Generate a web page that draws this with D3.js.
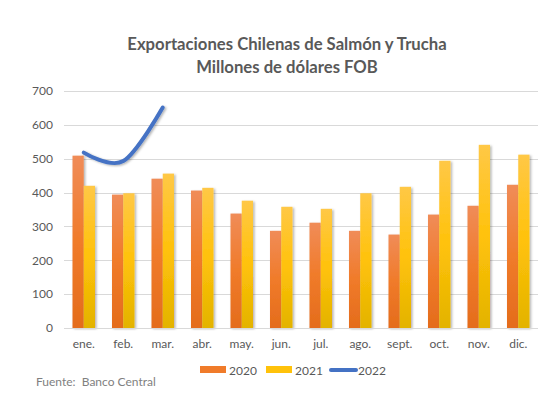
<!DOCTYPE html>
<html>
<head>
<meta charset="utf-8">
<script src="https://cdn.jsdelivr.net/npm/d3@7"></script>
<style>
  body { margin: 0; background: #fff; }
  text { font-family: "Lato", "Open Sans", sans-serif; }
</style>
</head>
<body>
<svg id="chart"></svg>
<script>
const width = 552, height = 397;
const margin = { top: 91, right: 14, bottom: 69, left: 64 };

// Data
const months = ["ene.", "feb.", "mar.", "abr.", "may.", "jun.", "jul.", "ago.", "sept.", "oct.", "nov.", "dic."];
const values2020 = [509, 394, 441, 406, 338, 287, 311, 287, 276, 335, 361, 423];
const values2021 = [420, 398, 456, 414, 376, 358, 352, 398, 417, 494, 541, 512];
const values2022 = [518, 493, 651];
const yTicks = [0, 100, 200, 300, 400, 500, 600, 700];
const titleLines = ["Exportaciones Chilenas de Salmón y Trucha", "Millones de dólares FOB"];

const plotWidth = width - margin.left - margin.right;
const plotHeight = height - margin.top - margin.bottom;

const svg = d3.select("#chart")
    .attr("width", width)
    .attr("height", height);

const defs = svg.append("defs");

// Gradients for bars
function addGradient(id, top, mid, bottom) {
    const gr = defs.append("linearGradient")
        .attr("id", id)
        .attr("x1", 0).attr("y1", 0).attr("x2", 0).attr("y2", 1);
    gr.append("stop").attr("offset", "0%").attr("stop-color", top);
    gr.append("stop").attr("offset", "50%").attr("stop-color", mid);
    gr.append("stop").attr("offset", "100%").attr("stop-color", bottom);
}
addGradient("grad2020", "#f08c58", "#f07b2a", "#e46c1c");
addGradient("grad2021", "#ffc846", "#ffc20a", "#e3b300");

const shadow = defs.append("filter").attr("id", "shadow")
    .attr("x", "-20%").attr("y", "-10%").attr("width", "160%").attr("height", "130%");
shadow.append("feDropShadow")
    .attr("dx", 1.5).attr("dy", 1).attr("stdDeviation", 1)
    .attr("flood-color", "#000").attr("flood-opacity", 0.3);

const g = svg.append("g")
    .attr("transform", `translate(${margin.left},${margin.top})`);

// Scales
const xScale = d3.scaleBand().domain(months).range([0, plotWidth]).paddingInner(0.43).paddingOuter(0.215);
const xSub = d3.scaleBand().domain(["2020", "2021"]).range([0, xScale.bandwidth()]);
const yScale = d3.scaleLinear().domain([0, 700]).range([plotHeight, 0]);
const xCenter = d => xScale(d) + xScale.bandwidth() / 2;

// Gridlines
g.append("g")
    .selectAll("line")
    .data(yTicks)
    .enter()
    .append("line")
    .attr("x1", 0)
    .attr("x2", plotWidth)
    .attr("y1", d => Math.round(yScale(d)) + 0.5)
    .attr("y2", d => Math.round(yScale(d)) + 0.5)
    .attr("stroke", "#d9d9d9")
    .attr("stroke-width", 1);

// Y axis labels
const yAxis = g.append("g")
    .call(d3.axisLeft(yScale).tickValues(yTicks).tickSize(0).tickPadding(11));
yAxis.select(".domain").remove();
yAxis.selectAll("text")
    .attr("fill", "#595959")
    .style("font-size", "12px")
    .style("font-family", "Lato, sans-serif");

// X axis labels
const xAxis = g.append("g")
    .attr("transform", `translate(0,${plotHeight})`)
    .call(d3.axisBottom(xScale).tickSize(0).tickPadding(11));
xAxis.select(".domain").remove();
xAxis.selectAll("text")
    .attr("fill", "#595959")
    .style("font-size", "12px")
    .style("font-family", "Lato, sans-serif");

// Bars
const series = [
    { key: "2020", values: values2020, fill: "url(#grad2020)" },
    { key: "2021", values: values2021, fill: "url(#grad2021)" }
];
series.forEach(s => {
    g.append("g")
        .attr("filter", "url(#shadow)")
        .selectAll("rect")
        .data(s.values)
        .enter()
        .append("rect")
        .attr("x", (d, i) => xScale(months[i]) + xSub(s.key))
        .attr("y", d => yScale(d))
        .attr("width", xSub.bandwidth())
        .attr("height", d => plotHeight - yScale(d))
        .attr("fill", s.fill);
});

// 2022 smoothed line
const line = d3.line()
    .x((d, i) => xCenter(months[i]))
    .y(d => yScale(d))
    .curve(d3.curveCatmullRom.alpha(0));
g.append("path")
    .datum(values2022)
    .attr("d", line)
    .attr("fill", "none")
    .attr("stroke", "#4472c4")
    .attr("stroke-width", 4)
    .attr("stroke-linecap", "round")
    .attr("filter", "url(#shadow)");

// Baseline
g.append("line")
    .attr("x1", 0).attr("x2", plotWidth)
    .attr("y1", Math.round(plotHeight) + 0.5).attr("y2", Math.round(plotHeight) + 0.5)
    .attr("stroke", "#d9d9d9");

// Title
svg.append("g")
    .selectAll("text")
    .data(titleLines)
    .enter()
    .append("text")
    .attr("x", 287)
    .attr("y", (d, i) => 50 + i * 22.5)
    .attr("text-anchor", "middle")
    .attr("fill", "#595959")
    .style("font-size", "16.7px")
    .style("font-weight", "bold")
    .text(d => d);

// Legend
const legend = svg.append("g").attr("transform", "translate(0,370)");
const legendItems = [
    { label: "2020", x: 200, type: "rect", color: "#f07b2a" },
    { label: "2021", x: 266, type: "rect", color: "#ffc20a" },
    { label: "2022", x: 329, type: "line", color: "#4472c4" }
];
legendItems.forEach(item => {
    if (item.type === "rect") {
        legend.append("rect")
            .attr("x", item.x).attr("y", -4)
            .attr("width", 26).attr("height", 7)
            .attr("fill", item.color);
    } else {
        legend.append("line")
            .attr("x1", item.x + 2).attr("x2", item.x + 27)
            .attr("y1", 0).attr("y2", 0)
            .attr("stroke", item.color)
            .attr("stroke-width", 4)
            .attr("stroke-linecap", "round");
    }
    legend.append("text")
        .attr("x", item.x + 29)
        .attr("y", 4.5)
        .attr("fill", "#595959")
        .style("font-size", "12px")
        .text(item.label);
});

// Source
svg.append("text")
    .attr("x", 36)
    .attr("y", 386)
    .attr("fill", "#7f7f7f")
    .style("font-size", "12px")
    .attr("xml:space", "preserve")
    .text("Fuente:  Banco Central");
</script>
</body>
</html>
